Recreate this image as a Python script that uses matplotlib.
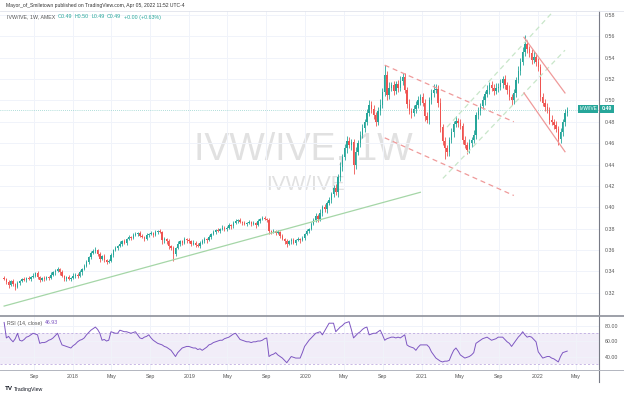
import matplotlib
matplotlib.use("Agg")
import matplotlib.pyplot as plt
import matplotlib.dates as mdates
from matplotlib.lines import Line2D
import pandas as pd

# weekly closes of IVW/IVE (first bar: week of 2017-05-29)
closes = [
    0.333, 0.330, 0.327, 0.331, 0.328, 0.325, 0.329, 0.331, 0.333, 0.332,
    0.334, 0.333, 0.335, 0.336, 0.338, 0.335, 0.332, 0.334, 0.333, 0.335,
    0.334, 0.337, 0.339, 0.340, 0.342, 0.339, 0.336, 0.333, 0.335, 0.333,
    0.334, 0.336, 0.337, 0.336, 0.339, 0.342, 0.345, 0.349, 0.353, 0.357,
    0.359, 0.360, 0.356, 0.352, 0.354, 0.351, 0.349, 0.350, 0.355, 0.360,
    0.362, 0.364, 0.366, 0.368, 0.367, 0.370, 0.372, 0.371, 0.374, 0.375,
    0.376, 0.373, 0.372, 0.370, 0.374, 0.375, 0.376, 0.374, 0.377, 0.378,
    0.377, 0.369, 0.370, 0.368, 0.364, 0.362, 0.356, 0.362, 0.366, 0.368,
    0.367, 0.370, 0.369, 0.368, 0.366, 0.367, 0.365, 0.364, 0.367, 0.368,
    0.370, 0.369, 0.372, 0.375, 0.377, 0.379, 0.378, 0.380, 0.381, 0.380,
    0.381, 0.383, 0.382, 0.385, 0.387, 0.388, 0.386, 0.385, 0.384, 0.385,
    0.386, 0.384, 0.385, 0.383, 0.387, 0.389, 0.390, 0.389, 0.388, 0.378,
    0.377, 0.378, 0.376, 0.377, 0.373, 0.370, 0.368, 0.366, 0.368, 0.369,
    0.367, 0.369, 0.370, 0.369, 0.371, 0.375, 0.378, 0.380, 0.384, 0.388,
    0.392, 0.389, 0.395, 0.400, 0.398, 0.404, 0.407, 0.412, 0.418, 0.414,
    0.428, 0.438, 0.447, 0.455, 0.462, 0.458, 0.461, 0.440, 0.452, 0.460,
    0.468, 0.474, 0.480, 0.488, 0.496, 0.492, 0.486, 0.480, 0.490, 0.496,
    0.508, 0.524, 0.505, 0.512, 0.514, 0.509, 0.515, 0.512, 0.518, 0.522,
    0.510, 0.497, 0.490, 0.488, 0.492, 0.496, 0.500, 0.503, 0.498, 0.485,
    0.482, 0.500, 0.507, 0.510, 0.511, 0.498, 0.475, 0.462, 0.455, 0.452,
    0.463, 0.470, 0.478, 0.481, 0.479, 0.476, 0.463, 0.458, 0.454, 0.460,
    0.463, 0.468, 0.486, 0.490, 0.495, 0.500, 0.506, 0.510, 0.514, 0.512,
    0.509, 0.512, 0.513, 0.516, 0.520, 0.514, 0.510, 0.503, 0.500, 0.507,
    0.519, 0.528, 0.536, 0.545, 0.553, 0.548, 0.544, 0.538, 0.541, 0.536,
    0.531, 0.503, 0.498, 0.494, 0.491, 0.482, 0.480, 0.477, 0.473, 0.464,
    0.470, 0.480, 0.488, 0.491,
]
first_open = 0.334

# wick lengths above / below the body, in thousandths
wick_hi = [
    2, 1, 2, 1, 2, 1, 2, 1, 1, 2,  1, 2, 1, 2, 1, 2, 1, 1, 2, 1,
    1, 2, 1, 2, 2, 1, 2, 1, 1, 2,  1, 2, 1, 1, 2, 1, 2, 2, 1, 2,
    2, 3, 1, 2, 1, 2, 1, 2, 2, 1,  2, 1, 2, 1, 2, 1, 2, 1, 2, 2,
    1, 2, 2, 1, 2, 1, 2, 1, 2, 1,  2, 1, 2, 1, 2, 1, 2, 1, 2, 1,
    1, 2, 1, 2, 1, 2, 1, 2, 1, 2,  2, 1, 2, 1, 2, 1, 2, 1, 2, 1,
    1, 2, 1, 2, 2, 1, 2, 1, 2, 1,  2, 1, 2, 1, 2, 1, 2, 2, 1, 2,
    1, 2, 1, 2, 1, 2, 1, 2, 1, 2,  2, 1, 2, 1, 2, 1, 2, 1, 2, 2,
    3, 2, 3, 2, 3, 2, 3, 2, 3, 4,  3, 4, 3, 4, 5, 4, 3, 3, 4, 3,
    3, 4, 3, 4, 4, 3, 4, 3, 4, 5,  4, 9, 4, 5, 3, 4, 3, 4, 5, 4,
    4, 3, 4, 3, 4, 3, 4, 3, 4, 3,  4, 3, 4, 5, 4, 3, 4, 3, 4, 3,
    3, 4, 3, 4, 3, 4, 3, 4, 3, 4,  3, 4, 3, 4, 3, 4, 3, 4, 3, 4,
    3, 4, 3, 4, 3, 4, 3, 4, 3, 4,  3, 4, 4, 5, 8, 4, 3, 4, 5, 3,
    4, 3, 4, 3, 4, 3, 4, 3, 4, 3,  4, 3, 4, 3,
]
wick_lo = [
    1, 2, 3, 1, 2, 2, 1, 2, 1, 1,  2, 1, 2, 1, 1, 2, 2, 1, 2, 1,
    2, 1, 1, 2, 1, 2, 1, 2, 2, 1,  2, 1, 2, 2, 1, 2, 1, 1, 2, 1,
    1, 2, 2, 3, 1, 2, 2, 1, 1, 2,  1, 2, 1, 2, 1, 2, 1, 2, 1, 1,
    2, 1, 1, 2, 1, 2, 1, 2, 1, 2,  1, 3, 2, 2, 3, 2, 6, 2, 1, 2,
    2, 1, 2, 1, 2, 1, 2, 1, 2, 1,  1, 2, 1, 2, 1, 2, 1, 2, 1, 2,
    2, 1, 2, 1, 1, 2, 1, 2, 1, 2,  1, 2, 1, 2, 1, 2, 1, 1, 2, 3,
    2, 1, 2, 1, 2, 1, 2, 3, 1, 2,  1, 2, 1, 2, 1, 2, 1, 2, 1, 1,
    2, 3, 2, 3, 2, 3, 2, 3, 2, 3,  4, 3, 4, 3, 4, 3, 4, 9, 4, 3,
    4, 3, 4, 3, 3, 4, 3, 4, 3, 4,  3, 4, 5, 4, 3, 4, 3, 4, 3, 4,
    3, 4, 3, 4, 3, 4, 3, 4, 3, 4,  3, 4, 3, 4, 3, 4, 5, 4, 10, 4,
    4, 3, 4, 3, 4, 3, 4, 3, 4, 3,  4, 3, 4, 3, 4, 3, 4, 3, 4, 3,
    4, 3, 4, 3, 4, 3, 4, 3, 4, 3,  4, 3, 4, 3, 3, 4, 3, 4, 3, 4,
    3, 4, 3, 4, 3, 4, 3, 4, 3, 6,  4, 3, 4, 3,
]

# RSI(14, close)
rsi = [
    84, 64, 66, 62, 59, 63, 70, 61, 60, 62,  65, 66, 68, 70, 69, 68, 57, 58, 58, 59,
    61, 62, 64, 67, 70, 62, 55, 54, 53, 52,  51, 54, 56, 59, 61, 62, 64, 68, 71, 74,
    76, 78, 75, 70, 61, 62, 60, 61, 72, 71,  70, 70, 74, 73, 72, 72, 71, 70, 71, 72,
    68, 64, 63, 65, 66, 68, 64, 61, 59, 57,  56, 55, 53, 52, 50, 48, 44, 40, 45, 48,
    51, 52, 53, 53, 52, 51, 51, 49, 50, 48,  50, 52, 55, 56, 58, 59, 60, 61, 61, 63,
    64, 65, 67, 69, 70, 66, 62, 61, 60, 59,  59, 58, 59, 59, 60, 60, 61, 63, 64, 40,
    42, 43, 45, 42, 40, 38, 35, 32, 36, 40,  39, 38, 38, 38, 45, 53, 57, 61, 64, 67,
    70, 71, 72, 68, 73, 78, 83, 83, 83, 72,  75, 78, 80, 83, 84, 85, 75, 64, 67, 70,
    72, 75, 77, 78, 68, 69, 70, 70, 72, 74,  68, 61, 63, 64, 65, 65, 64, 65, 64, 66,
    68, 55, 53, 52, 51, 48, 52, 55, 55, 55,  55, 52, 46, 42, 38, 36, 34, 33, 34, 34,
    35, 42, 48, 51, 47, 42, 40, 38, 39, 40,  42, 45, 57, 59, 61, 63, 64, 65, 63, 61,
    62, 63, 65, 65, 65, 62, 59, 57, 53, 57,  61, 65, 68, 72, 68, 65, 66, 65, 62, 59,
    46, 42, 38, 39, 40, 40, 38, 37, 35, 33,  40, 45, 46, 47,
]

# drawings on the chart: (date, price) end points
support_line = [("2017-05-29", 0.3075), ("2020-12-28", 0.414)]
red_channel = [
    [("2020-09-07", 0.533), ("2021-10-18", 0.480)],
    [("2020-09-07", 0.465), ("2021-10-18", 0.411)],
]
green_channel = [
    [("2021-03-09", 0.427), ("2022-03-28", 0.547)],
    [("2021-03-22", 0.475), ("2022-02-15", 0.582)],
]
red_down = [
    [("2021-11-19", 0.559), ("2022-03-28", 0.507)],
    [("2021-11-19", 0.507), ("2022-03-28", 0.452)],
]

price_ticks = [0.32, 0.34, 0.36, 0.38, 0.40, 0.42, 0.44, 0.46, 0.48, 0.50, 0.52, 0.54, 0.56, 0.58]
rsi_ticks = [40, 60, 80]

UP = "#26a69a"
DOWN = "#ef5350"
GRID = "#f0f3fa"
TXT = "#555555"
FONT = ["Liberation Sans", "DejaVu Sans"]
FS = 3.8
plt.rcParams["font.family"] = FONT

dates = pd.date_range("2017-05-29", periods=len(closes), freq="7D")
opens = [first_open] + closes[:-1]
highs = [max(o, c) + h / 1000 for o, c, h in zip(opens, closes, wick_hi)]
lows = [min(o, c) - l / 1000 for o, c, l in zip(opens, closes, wick_lo)]
cols = [UP if c >= o else DOWN for o, c in zip(opens, closes)]
bottoms = [min(o, c) for o, c in zip(opens, closes)]
heights = [max(abs(c - o), 0.0007) for o, c in zip(opens, closes)]

fig = plt.figure(figsize=(6.24, 3.96), dpi=100)
W, H = 624, 396
ax = fig.add_axes([0, 1 - 316 / H, 599 / W, (316 - 11) / H])
rax = fig.add_axes([0, 1 - 370 / H, 599 / W, (370 - 316) / H], sharex=ax)

# watermark
ax.text(0.507, 0.544, "IVW/IVE, 1W", transform=ax.transAxes, fontsize=27,
        color="#e1e1e1", ha="center", va="center", zorder=0)
ax.text(0.51, 0.43, "IVW/IVE", transform=ax.transAxes, fontsize=15,
        color="#e1e1e1", ha="center", va="center", zorder=0)

ax.vlines(dates, lows, highs, colors=cols, lw=0.6, zorder=3)
ax.bar(dates, heights, bottom=bottoms, width=4.2, color=cols, lw=0, zorder=4)

def draw(seg, **kw):
    xs = [pd.Timestamp(p[0]) for p in seg]
    ys = [p[1] for p in seg]
    ax.plot(xs, ys, zorder=5, **kw)

draw(support_line, color="#a5d6a7", lw=0.9)
for seg in red_channel:
    draw(seg, color="#ef9a9a", lw=0.9, ls=(0, (4, 3)))
for seg in green_channel:
    draw(seg, color="#c8e6c9", lw=0.9, ls=(0, (4, 3)))
for seg in red_down:
    draw(seg, color="#ef9a9a", lw=0.9)

ax.axhline(closes[-1], color=UP, lw=0.5, ls=(0, (1, 2)), alpha=0.7, zorder=2)

ax.set_ylim(0.2982, 0.5837)
ax.set_xlim(pd.Timestamp("2017-05-16"), pd.Timestamp("2022-07-13"))
ax.set_yticks(price_ticks)
ax.set_yticklabels([f"{t:.2f}" for t in price_ticks])
ax.yaxis.tick_right()
ax.tick_params(axis="y", length=0, pad=4, labelsize=FS, labelcolor=TXT)
ax.tick_params(axis="x", length=0, labelbottom=False)
ax.grid(True, color=GRID, lw=0.7)
for s in ax.spines.values():
    s.set_visible(False)

# RSI pane
rax.axhspan(30, 70, color="#7e57c2", alpha=0.1, lw=0)
rax.axhline(70, color="#b39ddb", lw=0.5, ls=(0, (3, 3)))
rax.axhline(30, color="#b39ddb", lw=0.5, ls=(0, (3, 3)))
rax.plot(dates, rsi, color="#7e57c2", lw=0.7, zorder=3)
rax.set_ylim(22.6, 92.3)
rax.set_yticks(rsi_ticks)
rax.set_yticklabels([f"{t:.2f}" for t in rsi_ticks])
rax.yaxis.tick_right()
rax.tick_params(axis="y", length=0, pad=4, labelsize=FS, labelcolor=TXT)
rax.xaxis.set_major_locator(mdates.MonthLocator(bymonth=[1, 5, 9]))
rax.xaxis.set_major_formatter(plt.FuncFormatter(
    lambda v, p: mdates.num2date(v).strftime("%Y" if mdates.num2date(v).month == 1 else "%b")))
rax.tick_params(axis="x", length=0, pad=3, labelsize=FS, labelcolor=TXT)
rax.grid(True, color=GRID, lw=0.7)
for s in rax.spines.values():
    s.set_visible(False)

# frame lines
fig.add_artist(Line2D([599 / W, 599 / W], [1 - 382 / H, 1 - 11 / H], color="#787b86", lw=0.8))
fig.add_artist(Line2D([0, 1], [1 - 316 / H, 1 - 316 / H], color="#9598a1", lw=1.3))
fig.add_artist(Line2D([0, 1], [1 - 370 / H, 1 - 370 / H], color="#b2b5be", lw=0.7))
fig.add_artist(Line2D([0, 1], [1 - 11 / H, 1 - 11 / H], color="#e0e3eb", lw=0.6))

renderer = fig.canvas.get_renderer()

def text_row(x, y, parts, gap=2.5):
    # lay several coloured texts side by side, in figure pixels
    for s, c in parts:
        t = fig.text(x / W, 1 - y / H, s, fontsize=FS, color=c, va="center")
        x += t.get_window_extent(renderer).width + gap

# header and legends
fig.text(6 / W, 1 - 6 / H, "Mayor_of_Smiletown published on TradingView.com, Apr 05, 2022 11:52 UTC-4",
         fontsize=3.6, color="#333333", va="center")
text_row(7, 17, [("IVW/IVE, 1W, AMEX", "#555555"), ("O0.49", UP), ("H0.50", UP),
                 ("L0.49", UP), ("C0.49", UP), ("+0.00 (+0.63%)", UP)])
text_row(7, 323, [("RSI (14, close)", "#555555"), ("46.93", "#7e57c2")])

# last price labels
fig.text(588 / W, 1 - 109 / H, "IVW/IVE", fontsize=3.4, color="white", ha="center", va="center",
         bbox=dict(boxstyle="square,pad=0.3", fc=UP, ec="none"))
fig.text(607 / W, 1 - 109 / H, "0.49", fontsize=FS, color="white", ha="center", va="center",
         fontweight="bold", bbox=dict(boxstyle="square,pad=0.3", fc=UP, ec="none"))

fig.text(5 / W, 1 - 389 / H, "TV", fontsize=4.5, fontweight="bold", color="#131722", va="center")
fig.text(14 / W, 1 - 389 / H, "TradingView", fontsize=FS, color="#131722", va="center")

fig.savefig("out.png", dpi=100, facecolor="white")
